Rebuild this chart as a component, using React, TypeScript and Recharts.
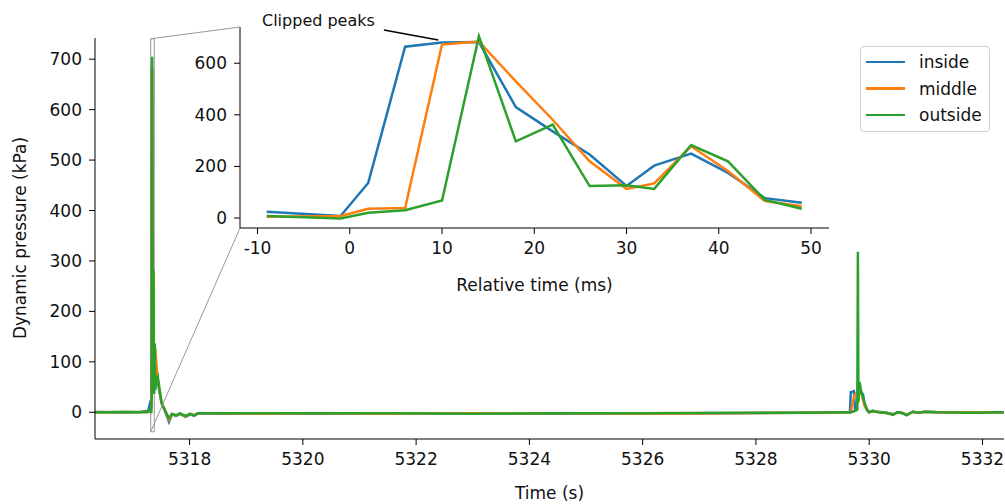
import React from 'react';
import { LineChart, Line, XAxis, YAxis, ReferenceArea, Legend } from 'recharts';

// relative time of the inset (ms) and readings around the first blast
const REL_TIME = [-9, -1, 2, 6, 10, 14, 18, 22, 26, 30, 33, 37, 41, 45, 49];
const INSIDE_REL = [24, 8, 136, 664, 680, 682, 430, 336, 246, 124, 203, 250, 175, 77, 59];
const MIDDLE_REL = [5, 8, 36, 39, 673, 684, 530, 381, 220, 113, 134, 278, 182, 66, 46];
const OUTSIDE_REL = [8, -2, 20, 30, 68, 705, 297, 362, 124, 127, 113, 283, 220, 70, 36];

// absolute time (s) of relative time 0 in the inset
const T0 = 5317.325;

const PRE_TIME = [5316.33, 5316.6, 5316.9, 5317.1, 5317.27];
const PRE_INSIDE = [0.5, 0, 0.4, 0, 3];
const PRE_MIDDLE = [0, 0.3, 0, 0.4, 0.5];
const PRE_OUTSIDE = [0.2, 0, 0.3, 0, 0.5];

const POST_TIME = [
  5317.385, 5317.395, 5317.41, 5317.44, 5317.47, 5317.505, 5317.565, 5317.636, 5317.69, 5317.76,
  5317.83, 5317.93, 5318.01, 5318.08, 5318.15, 5318.6, 5319.3, 5320.2, 5321.5, 5323,
  5324.5, 5326, 5327.5, 5328.8, 5329.66, 5329.675, 5329.73, 5329.75, 5329.79, 5329.8,
  5329.81, 5329.83, 5329.86, 5329.89, 5329.92, 5329.96, 5330.0, 5330.06, 5330.15, 5330.3,
  5330.42, 5330.5, 5330.58, 5330.66, 5330.77, 5330.88, 5330.98, 5331.2, 5331.8, 5332.38,
];
const POST_INSIDE = [
  70, 110, 90, 60, 40, 18, 3, -19, -4, -7,
  -3, -9, -4, -7, -2, -3, -2, -3, -2, -2,
  -3, -2, -2, -1, 0, 40, 42, 5, 20, 25,
  40, 45, 38, 36, 15, 4, 0, 3, 1, -1,
  -4, 0, -2, -5, 1, -1, 1, 0, 0, 0,
];
const POST_MIDDLE = [
  90, 128, 100, 65, 42, 20, 4, -15, -4, -6,
  -3, -8, -3, -6, -2, -2, -3, -2, -3, -2,
  -2, -3, -2, -1, 0, 0, 30, 35, 40, 60,
  55, 50, 40, 25, 12, 5, 0, 2, 1, -2,
  -4, -1, -1, -5, 1, -1, 1, 0, 0, 0,
];
const POST_OUTSIDE = [
  137, 44, 64, 70, 45, 18, 4, -12, -3, -6,
  -2, -7, -3, -6, -2, -2, -2, -2, -2, -3,
  -2, -2, -1, -1, 0, 0, 2, 3, 5, 318,
  20, 60, 40, 28, 18, 6, 0, 3, 0, -1,
  -5, 0, -1, -6, 1, -1, 1, 0, -1, 0,
];

const MAIN_X_TICKS = [5318, 5320, 5322, 5324, 5326, 5328, 5330, 5332];
const MAIN_Y_TICKS = [0, 100, 200, 300, 400, 500, 600, 700];
const INSET_X_TICKS = [-10, 0, 10, 20, 30, 40, 50];
const INSET_Y_TICKS = [0, 200, 400, 600];

const MAIN_X = [5316.33, 5332.38];
const MAIN_Y = [-53, 742];
const INSET_X = [-11.9, 51.95];
const INSET_Y = [-38.7, 740.5];

const COLORS = { inside: '#1f77b4', middle: '#ff7f0e', outside: '#2ca02c' };
const FONT = 'DejaVu Sans, Verdana, sans-serif';
const LW = 2.5;

// pixel boxes of the two plot areas
const MAIN = { left: 95, top: 38, right: 1004, bottom: 439 };
const INSET = { left: 240, top: 27, right: 829, bottom: 228 };
const INSET_BOX = { left: 180, top: 0, width: 660, height: 300 };

const mainData = [
  ...PRE_TIME.map((t, i) => ({ t, inside: PRE_INSIDE[i], middle: PRE_MIDDLE[i], outside: PRE_OUTSIDE[i] })),
  ...REL_TIME.map((r, i) => ({ t: T0 + r / 1000, inside: INSIDE_REL[i], middle: MIDDLE_REL[i], outside: OUTSIDE_REL[i] })),
  ...POST_TIME.map((t, i) => ({ t, inside: POST_INSIDE[i], middle: POST_MIDDLE[i], outside: POST_OUTSIDE[i] })),
];

const insetData = REL_TIME.map((r, i) => ({
  r,
  inside: INSIDE_REL[i],
  middle: MIDDLE_REL[i],
  outside: OUTSIDE_REL[i],
}));

const mainX = (v: number) => MAIN.left + ((v - MAIN_X[0]) / (MAIN_X[1] - MAIN_X[0])) * (MAIN.right - MAIN.left);
const mainY = (v: number) => MAIN.bottom - ((v - MAIN_Y[0]) / (MAIN_Y[1] - MAIN_Y[0])) * (MAIN.bottom - MAIN.top);
const insetX = (v: number) => INSET.left + ((v - INSET_X[0]) / (INSET_X[1] - INSET_X[0])) * (INSET.right - INSET.left);
const insetY = (v: number) => INSET.bottom - ((v - INSET_Y[0]) / (INSET_Y[1] - INSET_Y[0])) * (INSET.bottom - INSET.top);

const tickStyle = { fontSize: 17, fill: '#111', fontFamily: FONT };

const renderLegend = (props: any) => {
  const { payload = [] } = props;
  return (
    <div
      style={{
        border: '1px solid #d0d0d0',
        borderRadius: 4,
        background: 'rgba(255,255,255,0.8)',
        padding: '2px 0 3px 0',
        width: 130,
        fontFamily: FONT,
        fontSize: 17,
        color: '#111',
        boxSizing: 'border-box',
      }}
    >
      {payload.map((p: any) => (
        <div key={p.value} style={{ display: 'flex', alignItems: 'center', height: 26.4 }}>
          <div style={{ width: 39, height: LW, background: p.color, marginLeft: 5, marginRight: 14 }} />
          <span>{p.value}</span>
        </div>
      ))}
    </div>
  );
};

const rectLeft = T0 + INSET_X[0] / 1000;
const rectRight = T0 + INSET_X[1] / 1000;

export default function App() {
  return (
    <div style={{ position: 'absolute', left: 0, top: 0, width: 1005, height: 504, background: '#fff', fontFamily: FONT }}>
      <div style={{ position: 'absolute', left: 0, top: 0 }}>
        <LineChart
          width={1005}
          height={504}
          data={mainData}
          margin={{ top: MAIN.top, right: 1005 - MAIN.right, bottom: 504 - MAIN.bottom - 40, left: MAIN.left - 60 }}
        >
          <XAxis
            dataKey="t"
            type="number"
            domain={MAIN_X}
            allowDataOverflow
            ticks={MAIN_X_TICKS}
            interval={0}
            height={40}
            tickSize={6}
            tickMargin={8}
            stroke="#000"
            tick={tickStyle}
          />
          <YAxis
            type="number"
            domain={MAIN_Y}
            allowDataOverflow
            ticks={MAIN_Y_TICKS}
            interval={0}
            width={60}
            tickSize={6}
            tickMargin={7}
            stroke="#000"
            tick={tickStyle}
          />
          <ReferenceArea
            x1={rectLeft}
            x2={rectRight}
            y1={INSET_Y[0]}
            y2={INSET_Y[1]}
            fill="none"
            stroke="#999"
            strokeWidth={1}
            ifOverflow="visible"
          />
          <Line type="linear" dataKey="inside" name="inside" stroke={COLORS.inside} strokeWidth={LW} dot={false} isAnimationActive={false} />
          <Line type="linear" dataKey="middle" name="middle" stroke={COLORS.middle} strokeWidth={LW} dot={false} isAnimationActive={false} />
          <Line type="linear" dataKey="outside" name="outside" stroke={COLORS.outside} strokeWidth={LW} dot={false} isAnimationActive={false} />
          <Legend
            layout="horizontal"
            verticalAlign="middle"
            align="center"
            content={renderLegend}
            wrapperStyle={{ position: 'absolute', left: 860, top: 46, width: 132, height: 'auto' }}
          />
        </LineChart>
      </div>

      <div style={{ position: 'absolute', left: INSET_BOX.left, top: INSET_BOX.top }}>
        <LineChart
          width={INSET_BOX.width}
          height={INSET_BOX.height}
          data={insetData}
          margin={{
            top: INSET.top - INSET_BOX.top,
            right: INSET_BOX.left + INSET_BOX.width - INSET.right,
            bottom: INSET_BOX.top + INSET_BOX.height - INSET.bottom - 40,
            left: INSET.left - INSET_BOX.left - 50,
          }}
        >
          <XAxis
            dataKey="r"
            type="number"
            domain={INSET_X}
            allowDataOverflow
            ticks={INSET_X_TICKS}
            interval={0}
            height={40}
            tickSize={6}
            tickMargin={8}
            stroke="#000"
            tick={tickStyle}
          />
          <YAxis
            type="number"
            domain={INSET_Y}
            allowDataOverflow
            ticks={INSET_Y_TICKS}
            interval={0}
            width={50}
            tickSize={6}
            tickMargin={7}
            stroke="#000"
            tick={tickStyle}
          />
          <Line type="linear" dataKey="inside" stroke={COLORS.inside} strokeWidth={LW} dot={false} isAnimationActive={false} />
          <Line type="linear" dataKey="middle" stroke={COLORS.middle} strokeWidth={LW} dot={false} isAnimationActive={false} />
          <Line type="linear" dataKey="outside" stroke={COLORS.outside} strokeWidth={LW} dot={false} isAnimationActive={false} />
        </LineChart>
      </div>

      {/* axis titles, zoom connectors and the annotation */}
      <svg width={1005} height={504} style={{ position: 'absolute', left: 0, top: 0, pointerEvents: 'none' }}>
        <line x1={mainX(rectLeft)} y1={mainY(INSET_Y[1])} x2={INSET.left} y2={INSET.top} stroke="#999" strokeWidth={1} />
        <line x1={mainX(rectLeft)} y1={mainY(INSET_Y[0])} x2={INSET.left} y2={INSET.bottom} stroke="#999" strokeWidth={1} />
        <line x1={insetX(3.7)} y1={insetY(729)} x2={insetX(9.6)} y2={insetY(690)} stroke="#000" strokeWidth={1.5} />
        <text x={262} y={20} fontSize={16} fontFamily={FONT} fill="#111" dominantBaseline="central">
          Clipped peaks
        </text>
        <text x={(MAIN.left + MAIN.right) / 2} y={493} fontSize={17} fontFamily={FONT} fill="#111" textAnchor="middle" dominantBaseline="central">
          Time (s)
        </text>
        <text x={(INSET.left + INSET.right) / 2} y={285} fontSize={17} fontFamily={FONT} fill="#111" textAnchor="middle" dominantBaseline="central">
          Relative time (ms)
        </text>
        <text
          x={20}
          y={238}
          fontSize={17}
          fontFamily={FONT}
          fill="#111"
          textAnchor="middle"
          dominantBaseline="central"
          transform="rotate(-90 20 238)"
        >
          Dynamic pressure (kPa)
        </text>
      </svg>
    </div>
  );
}
